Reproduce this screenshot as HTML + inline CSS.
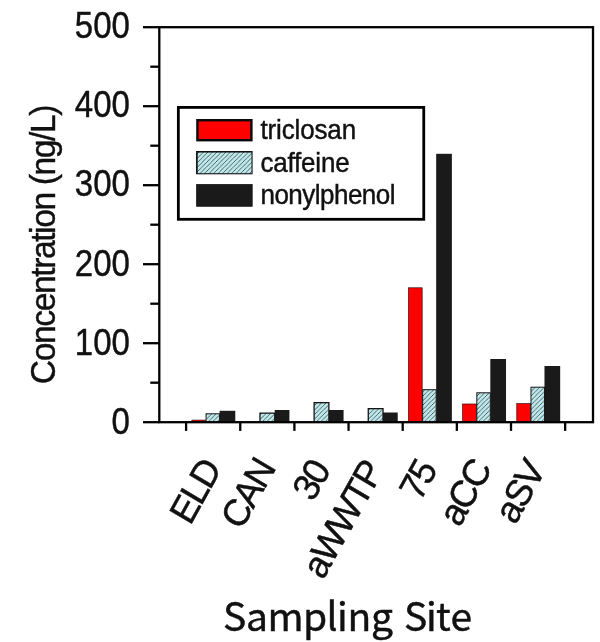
<!DOCTYPE html>
<html lang="en"><head><meta charset="utf-8"><title>Concentration by Sampling Site</title>
<style>
html,body{margin:0;padding:0;background:#fff;}
body{width:600px;height:642px;overflow:hidden;font-family:"Liberation Sans",Arial,sans-serif;}
svg{display:block;}
text{font-family:"Liberation Sans",Arial,Helvetica,sans-serif;fill:#111;}
</style></head><body>
<svg width="600" height="642" viewBox="0 0 600 642">
<defs>
<pattern id="hatch" width="4.5" height="4.5" patternUnits="userSpaceOnUse">
<rect width="4.5" height="4.5" fill="#bfe9ec"/>
<path d="M-1,5.5 L5.5,-1 M-1,1 L1,-1 M3.5,5.5 L5.5,3.5" stroke="#0a1618" stroke-width="0.88" stroke-dasharray="1.0 0.4"/>
</pattern>
</defs>
<rect width="600" height="642" fill="#fff"/>

<rect x="191.88" y="420.10" width="13.70" height="2.10" fill="#fe0000" stroke="#3a0a0a" stroke-width="0.7"/>
<rect x="219.58" y="410.80" width="15.70" height="11.40" fill="#1a1a1a"/>
<rect x="206.08" y="413.80" width="13.50" height="8.40" fill="url(#hatch)" stroke="#151515" stroke-width="1.0"/>
<rect x="274.72" y="410.00" width="14.70" height="12.20" fill="#1a1a1a"/>
<rect x="259.97" y="413.15" width="14.75" height="9.05" fill="url(#hatch)" stroke="#151515" stroke-width="1.3"/>
<rect x="328.87" y="410.00" width="14.70" height="12.20" fill="#1a1a1a"/>
<rect x="314.12" y="402.65" width="14.75" height="19.55" fill="url(#hatch)" stroke="#151515" stroke-width="1.3"/>
<rect x="383.02" y="412.50" width="14.70" height="9.70" fill="#1a1a1a"/>
<rect x="368.27" y="408.65" width="14.75" height="13.55" fill="url(#hatch)" stroke="#151515" stroke-width="1.3"/>
<rect x="408.47" y="287.80" width="13.70" height="134.40" fill="#fe0000" stroke="#3a0a0a" stroke-width="0.7"/>
<rect x="436.17" y="153.80" width="15.70" height="268.40" fill="#1a1a1a"/>
<rect x="422.67" y="389.70" width="13.50" height="32.50" fill="url(#hatch)" stroke="#151515" stroke-width="1.0"/>
<rect x="462.62" y="404.00" width="13.70" height="18.20" fill="#fe0000" stroke="#3a0a0a" stroke-width="0.7"/>
<rect x="490.32" y="359.00" width="15.70" height="63.20" fill="#1a1a1a"/>
<rect x="476.82" y="392.80" width="13.50" height="29.40" fill="url(#hatch)" stroke="#151515" stroke-width="1.0"/>
<rect x="516.78" y="403.60" width="13.70" height="18.60" fill="#fe0000" stroke="#3a0a0a" stroke-width="0.7"/>
<rect x="544.48" y="366.00" width="15.70" height="56.20" fill="#1a1a1a"/>
<rect x="530.98" y="387.20" width="13.50" height="35.00" fill="url(#hatch)" stroke="#151515" stroke-width="1.0"/>
<rect x="159.3" y="27.2" width="433.7" height="395.0" fill="none" stroke="#000" stroke-width="2.3"/>
<g stroke="#000" stroke-width="2.3">
<line x1="143" y1="422.20" x2="159.3" y2="422.20"/>
<line x1="150.3" y1="382.70" x2="159.3" y2="382.70"/>
<line x1="143" y1="343.20" x2="159.3" y2="343.20"/>
<line x1="150.3" y1="303.70" x2="159.3" y2="303.70"/>
<line x1="143" y1="264.20" x2="159.3" y2="264.20"/>
<line x1="150.3" y1="224.70" x2="159.3" y2="224.70"/>
<line x1="143" y1="185.20" x2="159.3" y2="185.20"/>
<line x1="150.3" y1="145.70" x2="159.3" y2="145.70"/>
<line x1="143" y1="106.20" x2="159.3" y2="106.20"/>
<line x1="150.3" y1="66.70" x2="159.3" y2="66.70"/>
<line x1="143" y1="27.20" x2="159.3" y2="27.20"/>
<line x1="186.10" y1="422.2" x2="186.10" y2="430.9"/>
<line x1="240.25" y1="422.2" x2="240.25" y2="430.9"/>
<line x1="294.40" y1="422.2" x2="294.40" y2="430.9"/>
<line x1="348.55" y1="422.2" x2="348.55" y2="430.9"/>
<line x1="402.70" y1="422.2" x2="402.70" y2="430.9"/>
<line x1="456.85" y1="422.2" x2="456.85" y2="430.9"/>
<line x1="511.00" y1="422.2" x2="511.00" y2="430.9"/>
<line x1="565.15" y1="422.2" x2="565.15" y2="430.9"/>
</g>
<text transform="translate(129.9,434.00) scale(0.88,1)" font-size="37.5" text-anchor="end" stroke="#111" stroke-width="0.45">0</text>
<text transform="translate(129.9,354.82) scale(0.88,1)" font-size="37.5" text-anchor="end" stroke="#111" stroke-width="0.45">100</text>
<text transform="translate(129.9,275.64) scale(0.88,1)" font-size="37.5" text-anchor="end" stroke="#111" stroke-width="0.45">200</text>
<text transform="translate(129.9,196.46) scale(0.88,1)" font-size="37.5" text-anchor="end" stroke="#111" stroke-width="0.45">300</text>
<text transform="translate(129.9,117.28) scale(0.88,1)" font-size="37.5" text-anchor="end" stroke="#111" stroke-width="0.45">400</text>
<text transform="translate(129.9,38.10) scale(0.88,1)" font-size="37.5" text-anchor="end" stroke="#111" stroke-width="0.45">500</text>
<text transform="translate(54.7,384.2) rotate(-90) scale(0.962,1)" font-size="35" letter-spacing="-1.49" stroke="#111" stroke-width="0.4">Concentration (ng/L)</text>
<rect x="178.35" y="107.4" width="245.4" height="111.9" fill="#fff" stroke="#000" stroke-width="2.8"/>
<rect x="197.4" y="120.2" width="54.0" height="20.0" fill="#fe0000" stroke="#0a0a0a" stroke-width="2.4"/>
<rect x="196.75" y="151.55" width="55.3" height="22.2" fill="url(#hatch)" stroke="#111" stroke-width="1.1"/><path d="M196.9,174 V151.7 H252" fill="none" stroke="#111" stroke-width="1.4"/>
<rect x="196.6" y="184.4" width="55.6" height="21.9" fill="#1a1a1a" stroke="#1a1a1a" stroke-width="0.8"/>
<text transform="translate(260.5,139.3) scale(0.945,1)" font-size="27.5" letter-spacing="-0.15" stroke="#111" stroke-width="0.45">triclosan</text>
<text transform="translate(260.5,171.5) scale(0.945,1)" font-size="27.5" letter-spacing="-0.22" stroke="#111" stroke-width="0.45">caffeine</text>
<text transform="translate(260.5,203.8) scale(0.945,1)" font-size="27.5" letter-spacing="-0.55" stroke="#111" stroke-width="0.45">nonylphenol</text>
<text transform="matrix(0.4889,-0.8827,0.8925,0.5275,190.30,526.35)" font-size="36.0" letter-spacing="-1.9" stroke="#111" stroke-width="0.45">ELD</text>
<text transform="matrix(0.4889,-0.8827,0.8925,0.5275,241.55,531.10)" font-size="36.0" letter-spacing="-1.9" stroke="#111" stroke-width="0.45">CAN</text>
<text transform="matrix(0.4889,-0.8827,0.8925,0.5275,313.10,502.85)" font-size="36.0" letter-spacing="-1.9" stroke="#111" stroke-width="0.45">30</text>
<text transform="matrix(0.4889,-0.8827,0.8925,0.5275,322.95,580.80)" font-size="36.0" letter-spacing="-1.9" stroke="#111" stroke-width="0.45">aWWTP</text>
<text transform="matrix(0.4889,-0.8827,0.8925,0.5275,419.90,502.45)" font-size="36.0" letter-spacing="-1.9" stroke="#111" stroke-width="0.45">75</text>
<text transform="matrix(0.4889,-0.8827,0.8925,0.5275,459.50,528.30)" font-size="36.0" letter-spacing="-1.9" stroke="#111" stroke-width="0.45">aCC</text>
<text transform="matrix(0.4889,-0.8827,0.8925,0.5275,515.30,525.75)" font-size="36.0" letter-spacing="-1.9" stroke="#111" stroke-width="0.45">aSV</text>
<text x="223.0 245.9 267.6 303.1 326.6 337.1 347.6 371.1 387.5 404.0 425.9 435.9 450.4" y="630.9" font-size="39" style="font-family:'Noto Sans CJK SC','Liberation Sans',sans-serif" stroke="#111" stroke-width="0.45">Sampling Site</text>
</svg>
</body></html>
